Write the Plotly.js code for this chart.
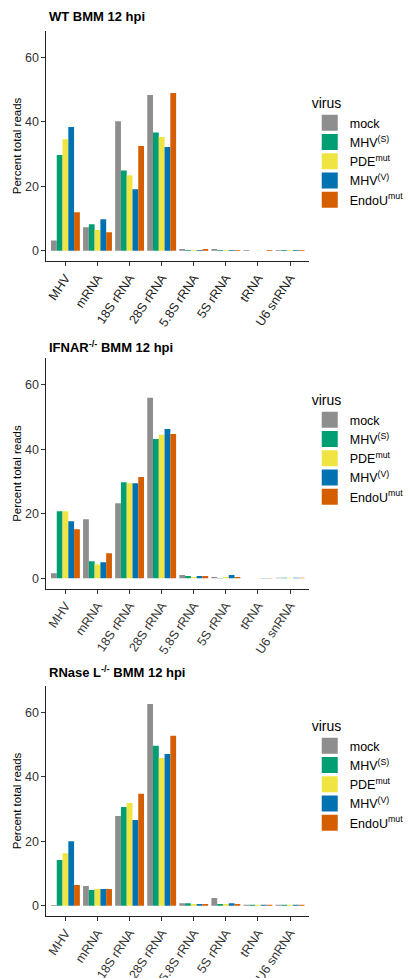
<!DOCTYPE html>
<html>
<head>
<meta charset="utf-8">
<script src="https://cdn.plot.ly/plotly-3.0.1.min.js"></script>
<style>html,body{margin:0;padding:0;background:#fff;}#chart{width:409px;height:978px;}</style>
</head>
<body>
<div id="chart"></div>
<script>
// ---- data ----
const categories = ['MHV', 'mRNA', '18S rRNA', '28S rRNA', '5.8S rRNA', '5S rRNA', 'tRNA', 'U6 snRNA'];
const viruses = ['mock', 'MHV<sup>(S)</sup>', 'PDE<sup>mut</sup>', 'MHV<sup>(V)</sup>', 'EndoU<sup>mut</sup>'];
const panelTitles = ['<b>WT BMM 12 hpi</b>', '<b>IFNAR<sup>-/-</sup> BMM 12 hpi</b>', '<b>RNase L<sup>-/-</sup> BMM 12 hpi</b>'];
const yTickVals = [0, 20, 40, 60];

// WT BMM
const wt_mock  = [3.2, 7.3, 40.2, 48.3, 0.5, 0.5, 0.2, 0.2];
const wt_mhvS  = [29.7, 8.2, 24.9, 36.7, 0.2, 0.2, 0.0, 0.2];
const wt_pde   = [34.6, 6.4, 23.4, 35.3, 0.2, 0.2, 0.0, 0.2];
const wt_mhvV  = [38.4, 9.8, 19.1, 32.2, 0.2, 0.2, 0.0, 0.2];
const wt_endoU = [11.9, 5.7, 32.5, 48.9, 0.5, 0.2, 0.2, 0.2];

// IFNAR-/- BMM
const if_mock  = [1.6, 18.3, 23.3, 56.0, 1.0, 0.4, 0.0, 0.2];
const if_mhvS  = [20.8, 5.3, 29.8, 43.2, 0.7, 0.1, 0.0, 0.2];
const if_pde   = [20.8, 4.3, 29.5, 44.5, 0.4, 0.4, 0.1, 0.2];
const if_mhvV  = [17.7, 5.0, 29.5, 46.3, 0.7, 1.0, 0.1, 0.2];
const if_endoU = [15.2, 7.8, 31.4, 44.8, 0.7, 0.4, 0.1, 0.2];

// RNase L-/- BMM
const rn_mock  = [0.2, 6.1, 27.8, 62.6, 0.8, 2.4, 0.3, 0.3];
const rn_mhvS  = [14.2, 4.9, 30.6, 49.6, 0.8, 0.5, 0.3, 0.3];
const rn_pde   = [16.3, 5.2, 31.9, 45.8, 0.5, 0.5, 0.3, 0.3];
const rn_mhvV  = [20.0, 5.2, 26.6, 47.1, 0.5, 0.8, 0.3, 0.3];
const rn_endoU = [6.4, 5.2, 34.7, 52.7, 0.5, 0.5, 0.3, 0.3];

// ---- styles ----
const colors = ['#8E8E8E', '#009E73', '#F0E442', '#0072B2', '#D55E00'];
const FONT = 'Liberation Sans, Arial, Helvetica, sans-serif';
const W = 409, H = 978;
const panels = [
  {series: [wt_mock, wt_mhvS, wt_pde, wt_mhvV, wt_endoU], top: 30.7, bottom: 261.2, titleY: 16.5, legendTop: 90, tickColor: '#1a1a1a'},
  {series: [if_mock, if_mhvS, if_pde, if_mhvV, if_endoU], top: 358.3, bottom: 588.8, titleY: 346.5, legendTop: 387, tickColor: '#333'},
  {series: [rn_mock, rn_mhvS, rn_pde, rn_mhvV, rn_endoU], top: 685.7, bottom: 916.2, titleY: 672.3, legendTop: 713, tickColor: '#333'}
];

const traces = [];
const layout = {
  width: W, height: H,
  margin: {l: 0, r: 0, t: 0, b: 0},
  paper_bgcolor: '#fff', plot_bgcolor: '#fff',
  font: {family: FONT, color: '#000'},
  barmode: 'group', bargap: 0.1, bargroupgap: 0,
  annotations: []
};

panels.forEach((p, i) => {
  const n = i === 0 ? '' : String(i + 1);
  const xa = 'x' + n, ya = 'y' + n;
  const lg = 'legend' + n;
  p.series.forEach((vals, j) => {
    traces.push({
      type: 'bar', x: categories, y: vals, name: viruses[j],
      xaxis: xa, yaxis: ya, showlegend: false,
      marker: {color: colors[j], line: {width: 0}},
      hoverinfo: 'x+y+name'
    });
  });
  // legend entries (keys only)
  viruses.forEach((v, j) => {
    traces.push({
      type: 'scatter', mode: 'markers', x: [null], y: [null], name: v,
      xaxis: xa, yaxis: ya, legend: lg, showlegend: true,
      marker: {symbol: 'square', size: 16, color: colors[j], line: {width: 0}}
    });
  });
  layout['xaxis' + n] = {
    type: 'category', anchor: ya,
    domain: [48.3 / W, 323.5 / W], range: [-0.6, 7.6],
    showline: true, linecolor: '#222', linewidth: 1,
    ticks: 'outside', ticklen: 3.7, tickwidth: 1, tickcolor: '#333',
    tickangle: -56, showgrid: false, zeroline: false,
    tickfont: {family: FONT, size: 12.5, color: p.tickColor}
  };
  layout['yaxis' + n] = {
    anchor: xa,
    domain: [1 - p.bottom / H, 1 - p.top / H], range: [-3.25, 68.25],
    showline: true, linecolor: '#222', linewidth: 1,
    ticks: 'outside', ticklen: 3.7, tickwidth: 1, tickcolor: '#333',
    tickvals: yTickVals, ticktext: yTickVals.map(String),
    showgrid: false, zeroline: false,
    tickfont: {family: FONT, size: 12.5, color: '#333'},
    title: {text: 'Percent total reads', font: {family: FONT, size: 11.5, color: '#000'}, standoff: 1}
  };
  layout[lg] = {
    x: 324 / W, xanchor: 'left', y: 1 - p.legendTop / H, yanchor: 'top',
    bgcolor: 'rgba(0,0,0,0)', borderwidth: 0,
    itemsizing: 'trace', traceorder: 'normal',
    title: {text: 'virus', font: {family: FONT, size: 14, color: '#000'}},
    font: {family: FONT, size: 12.5, color: '#000'}
  };
  layout.annotations.push({
    text: panelTitles[i], xref: 'paper', yref: 'paper',
    x: 49.5 / W, xanchor: 'left', y: 1 - p.titleY / H, yanchor: 'middle',
    showarrow: false, font: {family: FONT, size: 13, color: '#000'}
  });
});

Plotly.newPlot('chart', traces, layout, {displayModeBar: false, staticPlot: true});
</script>
</body>
</html>
